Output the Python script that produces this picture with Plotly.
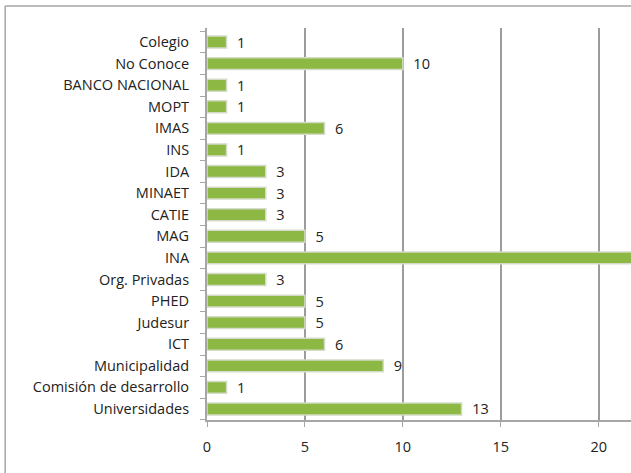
import plotly.graph_objects as go

categories = ["Universidades", "Comisión de desarrollo", "Municipalidad", "ICT", "Judesur",
              "PHED", "Org. Privadas", "INA", "MAG", "CATIE", "MINAET", "IDA", "INS",
              "IMAS", "MOPT", "BANCO NACIONAL", "No Conoce", "Colegio"]
values = [13, 1, 9, 6, 5, 5, 3, 22, 5, 3, 3, 3, 1, 6, 1, 1, 10, 1]
x_ticks = [0, 5, 10, 15, 20]

FONT = "Open Sans"

# INA's label runs off the cropped chart in the reference, so it is not drawn
text_pos = ["none" if c == "INA" else "outside" for c in categories]

fig = go.Figure(go.Bar(
    y=categories, x=values, orientation="h",
    width=0.55,
    marker=dict(color="#8cb843", line=dict(color="#d4dbc8", width=1.5)),
    text=values, texttemplate="  %{x}", textposition=text_pos,
    constraintext="none",
    textfont=dict(family=FONT, size=14.5, color="#222222"),
    cliponaxis=True,
))

fig.update_layout(
    width=631, height=473,
    margin=dict(l=207, r=0, t=28, b=53),
    paper_bgcolor="white", plot_bgcolor="white",
    showlegend=False,
    font=dict(family=FONT, size=14.5, color="#222222"),
)
fig.update_xaxes(
    range=[0, 21.65], tickvals=x_ticks, showgrid=True, gridcolor="#9c9c9c", gridwidth=2,
    zeroline=False, showline=True, linecolor="#a6a6a6", linewidth=2,
    ticks="outside", ticklen=5, tickcolor="#a6a6a6", ticklabelstandoff=8,
    tickfont=dict(family=FONT, size=14.5),
)
fig.update_yaxes(
    type="category", categoryorder="array", categoryarray=categories,
    range=[-0.51, 17.65], showgrid=False, showline=True, linecolor="#a6a6a6", linewidth=2,
    ticks="outside", tickson="boundaries", ticklen=5, tickcolor="#a6a6a6",
    ticklabelstandoff=13, tickfont=dict(family=FONT, size=14.5),
)
# outer chart border (left and top edges visible in the crop)
fig.add_shape(type="line", xref="paper", yref="paper", x0=-0.476, x1=-0.476, y0=1.056, y1=-0.14,
              line=dict(color="#a6a6a6", width=1.5))
fig.add_shape(type="line", xref="paper", yref="paper", x0=-0.476, x1=1.0, y0=1.056, y1=1.056,
              line=dict(color="#a6a6a6", width=1.5))

fig.write_html("out.html", config={"displayModeBar": False},
               post_script="document.body.style.margin='0';")
